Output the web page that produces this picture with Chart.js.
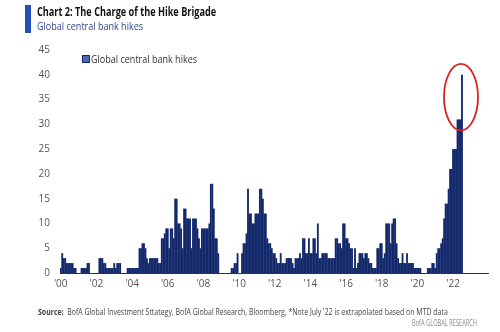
<!DOCTYPE html>
<html>
<head>
<meta charset="utf-8">
<script src="https://cdn.jsdelivr.net/npm/chart.js@4"></script>
<style>
  html, body { margin: 0; padding: 0; background: #fff; }
  #wrap { position: relative; width: 500px; height: 332px; overflow: hidden; }
  #c { position: absolute; left: 0; top: 0; }
  .txt { position: absolute; display: inline-block; white-space: nowrap; transform-origin: left top;
         font-family: "Open Sans", "DejaVu Sans", sans-serif; }
  #mark { position: absolute; left: 25px; top: 5px; width: 6px; height: 28px; background: #2350b8; }
  #title { left: 37px; top: 4px; font-size: 11.5px; font-weight: bold; color: #111; }
  #sub { left: 37px; top: 18px; font-size: 11px; color: #34478a; }
  #legbox { position: absolute; left: 82px; top: 55px; width: 6px; height: 6px; background: #4a68b8; border: 1.5px solid #13296b; }
  #legtxt { left: 91px; top: 51px; font-size: 11px; color: #333; }
  #src { left: 38px; top: 306px; font-size: 8.6px; color: #444; }
  #brand { left: 412px; top: 317px; font-size: 8.6px; color: #888; }
</style>
</head>
<body>
<div id="wrap">
  <canvas id="c" width="500" height="332"></canvas>
  <div id="mark"></div>
  <div class="txt" id="title" data-w="179">Chart 2: The Charge of the Hike Brigade</div>
  <div class="txt" id="sub" data-w="106">Global central bank hikes</div>
  <div id="legbox"></div>
  <div class="txt" id="legtxt" data-w="106">Global central bank hikes</div>
  <div class="txt" id="src" data-w="410"><b>Source:</b>&nbsp; BofA Global Investment Sttategy, BofA Global Research, Bloomberg, *Note July '22 is extrapolated based on MTD data</div>
  <div class="txt" id="brand" data-w="65">BofA GLOBAL RESEARCH</div>
</div>
<script>
// monthly count of central bank hikes, Jan 2000 - Jul 2022
var hikes = [
  1, 4, 3, 3, 2, 2, 2, 2, 2, 1, 1, 0,        // 2000
  0, 0, 1, 1, 1, 1, 2, 2, 0, 0, 0, 0,        // 2001
  0, 0, 3, 3, 3, 2, 2, 1, 1, 1, 1, 1,        // 2002
  2, 1, 2, 2, 2, 0, 0, 0, 0, 1, 1, 1,        // 2003
  1, 1, 1, 1, 1, 5, 5, 6, 6, 5, 3, 2,        // 2004
  3, 3, 3, 3, 3, 3, 2, 2, 7, 7, 8, 9,        // 2005
  9, 5, 9, 9, 7, 15, 15, 10, 10, 9, 5, 13,   // 2006
  13, 11, 11, 11, 5, 11, 11, 11, 9, 7, 5, 9, // 2007
  9, 9, 9, 9, 10, 18, 18, 13, 7, 7, 4, 0,    // 2008
  0, 0, 0, 0, 0, 0, 0, 1, 1, 2, 2, 4,        // 2009
  0, 0, 4, 6, 6, 8, 17, 12, 12, 10, 10, 12,  // 2010
  12, 12, 17, 17, 15, 12, 12, 7, 6, 6, 5, 4, // 2011
  4, 3, 2, 2, 4, 2, 2, 2, 3, 3, 3, 3,        // 2012
  2, 1, 3, 3, 3, 4, 3, 7, 7, 4, 4, 7,        // 2013
  4, 4, 7, 7, 4, 10, 3, 3, 4, 4, 4, 4,       // 2014
  3, 3, 3, 3, 3, 7, 7, 6, 6, 5, 10, 10,      // 2015
  7, 7, 6, 5, 5, 1, 5, 1, 2, 4, 4, 4,        // 2016
  3, 4, 4, 3, 2, 2, 1, 1, 1, 5, 5, 6,        // 2017
  6, 3, 4, 10, 10, 10, 6, 10, 11, 11, 6, 3,  // 2018
  2, 2, 4, 2, 2, 4, 2, 2, 2, 2, 1, 1,        // 2019
  1, 1, 1, 0, 0, 0, 0, 1, 1, 1, 2, 2,        // 2020
  1, 4, 5, 5, 6, 7, 11, 14, 14, 17, 21, 21,  // 2021
  25, 25, 25, 31, 31, 31, 40                 // 2022 (Jul extrapolated)
];
var firstYear = 2000;
var lastYear = 2023;   // axis runs on to the end of 2023
var tickLabels = ["'00", "'02", "'04", "'06", "'08", "'10", "'12", "'14", "'16", "'18", "'20", "'22"];
var seriesName = 'Global central bank hikes';

var months = [];
for (var y = firstYear; y <= lastYear; y++) {
  for (var m = 1; m <= 12; m++) {
    months.push(y + '-' + (m < 10 ? '0' + m : m));
  }
}

// the report uses a condensed face, squeeze the html text to the same widths
document.querySelectorAll('.txt').forEach(function(el) {
  var w = el.getBoundingClientRect().width;
  var target = parseFloat(el.getAttribute('data-w'));
  if (w > 0 && target) el.style.transform = 'scaleX(' + (target / w).toFixed(3) + ')';
});

var tickFont = { family: '"Open Sans", sans-serif', size: 10 };

// red ring round the latest (July '22) bar
var ringPlugin = {
  id: 'ring',
  afterDatasetsDraw: function(chart) {
    var xs = chart.scales.x, ys = chart.scales.y;
    var last = hikes.length - 1;
    var cx = xs.getPixelForValue(last) - 1;
    var cy = ys.getPixelForValue(35.5);
    var ry = ys.getPixelForValue(0) - ys.getPixelForValue(6.7);
    var ctx = chart.ctx;
    ctx.save();
    ctx.beginPath();
    ctx.ellipse(cx, cy, 17, ry, 0, 0, Math.PI * 2);
    ctx.strokeStyle = '#d9211f';
    ctx.lineWidth = 1.8;
    ctx.stroke();
    ctx.restore();
  }
};

var chart = new Chart(document.getElementById('c'), {
  type: 'bar',
  data: {
    labels: months,
    datasets: [{
      label: seriesName,
      data: hikes,
      backgroundColor: '#13296b',
      borderWidth: 0,
      barPercentage: 1.25,   // slight overlap so the bars read as one solid block
      categoryPercentage: 1
    }]
  },
  options: {
    responsive: false,
    animation: false,
    layout: { padding: { top: 50, right: 12, bottom: 37, left: 0 } },
    plugins: {
      legend: { display: false },
      tooltip: { enabled: false }
    },
    scales: {
      x: {
        grid: { display: false, drawTicks: false },
        border: { display: true, color: '#333', width: 1 },
        ticks: {
          autoSkip: false,
          maxRotation: 0,
          padding: 5,
          color: '#555',
          font: tickFont,
          callback: function(v, i) {
            return i % 24 === 0 ? tickLabels[i / 24] : null;
          }
        },
        afterFit: function(s) { s.height = 22; }
      },
      y: {
        min: 0,
        max: 45,
        grid: { display: false, drawTicks: false },
        border: { display: false },
        ticks: { stepSize: 5, padding: 10, color: '#555', font: tickFont },
        afterFit: function(s) { s.width = 60; }
      }
    }
  },
  plugins: [ringPlugin]
});
</script>
</body>
</html>
